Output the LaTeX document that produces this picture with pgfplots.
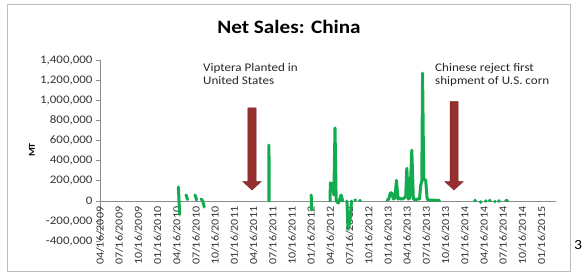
\documentclass[border=0pt]{standalone}
\usepackage{fontspec}
\setmainfont{Carlito}[FakeStretch=1.12]
\usepackage{pgfplots}
\pgfplotsset{compat=1.18}
\definecolor{sgreen}{RGB}{20,170,80}
\definecolor{sred}{RGB}{150,48,46}
\definecolor{sreddark}{RGB}{120,35,35}
\definecolor{axgray}{RGB}{140,140,140}
\definecolor{framegray}{RGB}{190,190,190}
\begin{document}
\begin{tikzpicture}
\path (0,0) rectangle (583bp,275bp);
\draw[framegray, line width=1bp] (7bp,3bp) rectangle (570bp,270bp);
\node[font=\bfseries\fontsize{19}{22}\selectfont] at (289bp,248bp) {Net Sales: China};
\node[rotate=90, font=\bfseries\fontsize{9}{10}\selectfont] at (32bp,125bp) {MT};
\node[font=\fontsize{14}{16}\selectfont, anchor=center] at (578bp,30bp) {3};
\node[anchor=north west, align=left, inner sep=0pt, font=\fontsize{11.7}{13.5}\selectfont, text=black!85] at (203bp,212bp) {Viptera Planted in\\United States};
\node[anchor=north west, align=left, inner sep=0pt, font=\fontsize{11.7}{13.5}\selectfont, text=black!85] at (435bp,212bp) {Chinese reject first\\shipment of U.S. corn};
\begin{axis}[
  at={(100bp,33.7bp)}, anchor=south west,
  width=456bp, height=181.3bp, scale only axis,
  xmin=0, xmax=23.75, ymin=-400000, ymax=1400000,
  axis x line=middle, axis y line=left,
  axis line style={axgray, line width=0.8bp, -},
  every inner x axis line/.append style={-},
  every outer y axis line/.append style={-},
  hide obscured x ticks=false,
  xtick={0,...,23},
  xticklabels={04/16/2009,07/16/2009,10/16/2009,01/16/2010,04/16/2010,07/16/2010,10/16/2010,01/16/2011,04/16/2011,07/16/2011,10/16/2011,01/16/2012,04/16/2012,07/16/2012,10/16/2012,01/16/2013,04/16/2013,07/16/2013,10/16/2013,01/16/2014,04/16/2014,07/16/2014,10/16/2014,01/16/2015},
  x tick label style={rotate=90, anchor=east, font=\fontsize{10.8}{12}\selectfont, text=black!80, inner sep=1.5bp},
  xtick style={draw=none},
  ytick={-400000,-200000,0,200000,400000,600000,800000,1000000,1200000,1400000},
  scaled y ticks=false,
  y tick label style={/pgf/number format/.cd, fixed, 1000 sep={,}, assume math mode=true, /tikz/.cd, font=\fontsize{11.6}{13}\selectfont, text=black!80},
  ytick style={axgray, line width=0.8bp},
  tick align=outside, ytick pos=left,
  major tick length=4bp,
  unbounded coords=jump, clip=false,
]
% arrows
\fill[sred, draw=sreddark, line width=0.5bp] (axis cs:7.708,923535) -- (axis cs:8.125,923535) -- (axis cs:8.125,191658) -- (axis cs:8.385,191658) -- (axis cs:7.917,109235) -- (axis cs:7.448,191658) -- (axis cs:7.708,191658) -- cycle;
\fill[sred, draw=sreddark, line width=0.5bp] (axis cs:18.229,986097) -- (axis cs:18.646,986097) -- (axis cs:18.646,191658) -- (axis cs:18.906,191658) -- (axis cs:18.4375,109235) -- (axis cs:17.969,191658) -- (axis cs:18.229,191658) -- cycle;
\addplot[sgreen, line width=3bp, line cap=round, line join=round] coordinates {
(4.08,140000) (4.15,-130000) (4.2,nan)
(4.48,60000) (4.56,15000) (4.6,nan)
(4.95,60000) (5.03,10000) (5.1,nan)
(5.27,20000) (5.35,0) (5.43,-60000) (5.5,nan)
(8.79,0) (8.80,556000) (8.81,0) (8.9,nan)
(11.00,60000) (11.02,-90000) (11.1,nan)
(11.98,0) (12.00,180000) (12.10,170000) (12.18,60000) (12.24,725000) (12.30,0) (12.42,-20000) (12.56,60000) (12.64,0) (12.7,nan)
(12.86,0) (12.92,-280000) (13.02,-200000) (13.10,0) (13.2,nan)
(13.27,10000) (13.31,10000) (13.4,nan)
(13.52,5000) (13.56,5000) (13.6,nan)
(14.96,10000) (15.04,20000) (15.12,80000) (15.20,80000) (15.28,20000) (15.36,30000) (15.44,205000) (15.52,20000) (15.60,30000) (15.68,20000) (15.76,20000) (15.84,30000) (15.92,40000) (15.98,325000) (16.06,20000) (16.14,30000) (16.24,505000) (16.32,20000) (16.40,15000) (16.48,15000) (16.56,20000) (16.64,20000) (16.70,150000) (16.76,200000) (16.80,1270000) (16.86,210000) (16.96,210000) (17.04,20000) (17.12,10000) (17.20,10000) (17.28,8000) (17.36,10000) (17.44,8000) (17.52,5000) (17.60,8000) (17.68,5000)
};
\addplot[only marks, mark=*, mark size=1.5bp, sgreen] coordinates {
(19.53,5000) (19.83,-10000) (20.1,0) (20.3,5000) (20.57,-5000) (20.78,0) (21.15,5000) (21.2,5000)
};
\end{axis}
\pgfresetboundingbox
\path (0,0) rectangle (583bp,275bp);
\end{tikzpicture}
\end{document}
